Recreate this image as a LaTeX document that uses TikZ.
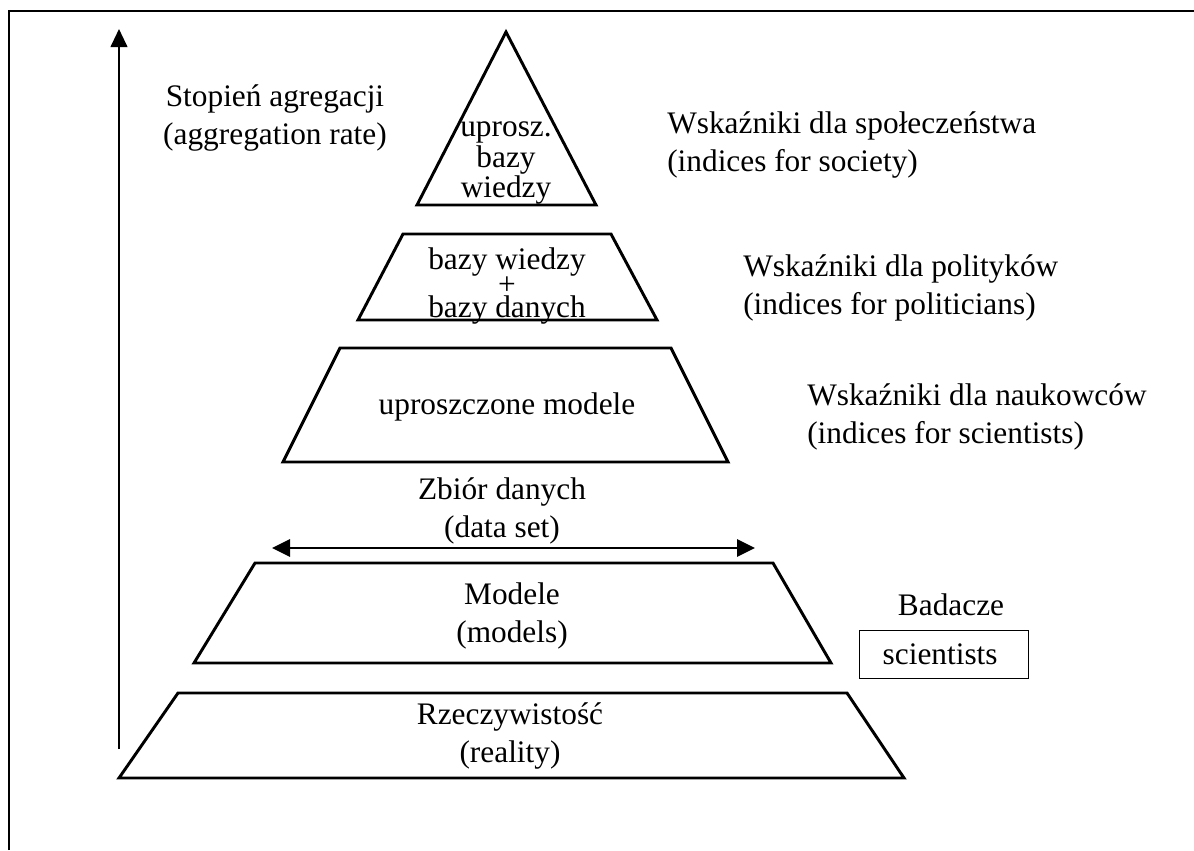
\documentclass[tikz,border=0pt]{standalone}
\usepackage{fontspec}
\setmainfont{Liberation Serif}
\usetikzlibrary{arrows.meta}
\begin{document}
\begin{tikzpicture}[x=0.75pt,y=-0.75pt,
  lbl/.style={inner sep=0pt, align=center, font=\fontsize{23.5}{28.5}\selectfont},
  lblleft/.style={lbl, align=left, anchor=west},
  layer/.style={line width=2.2pt, line join=miter},
  axis/.style={line width=1.5pt, -{Triangle[length=13.5pt,width=12.5pt]}},
  span/.style={line width=1.5pt, {Triangle[length=13.5pt,width=13pt]}-{Triangle[length=13.5pt,width=13pt]}},
  frame/.style={line width=1.9pt, line join=miter}]
\useasboundingbox (0,0) rectangle (1194,850);

% open frame: left and top edges only
\draw[frame] (9,850) -- (9,11) -- (1194,11);

% aggregation axis
\coordinate (axisfoot) at (119,749);
\coordinate (axistop) at (119,29);
\draw[axis] (axisfoot) -- (axistop);
\node[lbl] (aggr) at (275,118) {Stopień agregacji\\(aggregation rate)};

% pyramid layers, top to bottom
\draw[layer] (506,32) -- (596,205) -- (417,205) -- cycle;
\draw[layer] (403,234) -- (611,234) -- (657,320) -- (358,320) -- cycle;
\draw[layer] (340,348) -- (671,348) -- (728,462) -- (283,462) -- cycle;
\draw[layer] (255,563) -- (773,563) -- (831,663) -- (194,663) -- cycle;
\draw[layer] (178,693) -- (847,693) -- (904,778) -- (119,778) -- cycle;

% texts inside the layers
\node[lbl, font=\fontsize{23.5}{23}\selectfont] (apex) at (506,163) {uprosz.\\bazy\\wiedzy};
\node[lbl, font=\fontsize{23.5}{16}\selectfont] (kb) at (507,286) {bazy wiedzy\\+\\bazy danych};
\node[lbl] (simple) at (507,407) {uproszczone modele};
\node[lbl] (models) at (512,616) {Modele\\(models)};
\node[lbl] (reality) at (510,736) {Rzeczywistość\\(reality)};

% data set span
\node[lbl] (dataset) at (502,511) {Zbiór danych\\(data set)};
\coordinate (spanl) at (272,548);
\coordinate (spanr) at (755,548);
\draw[span] (spanl) -- (spanr);

% indicator labels on the right
\node[lblleft] (society) at (667,145) {Wskaźniki dla społeczeństwa\\(indices for society)};
\node[lblleft] (politicians) at (743,288) {Wskaźniki dla polityków\\(indices for politicians)};
\node[lblleft] (scientists) at (807,417) {Wskaźniki dla naukowców\\(indices for scientists)};

% researchers
\node[lbl] (badacze) at (951,605) {Badacze};
\node[draw, line width=0.75pt, minimum width=126.75pt, minimum height=36pt, inner sep=0pt,
      font=\fontsize{23.5}{28.5}\selectfont] (sci) at (943.5,654)
  {\hspace*{-5pt}\raisebox{-4pt}{scientists}};
\end{tikzpicture}
\end{document}
